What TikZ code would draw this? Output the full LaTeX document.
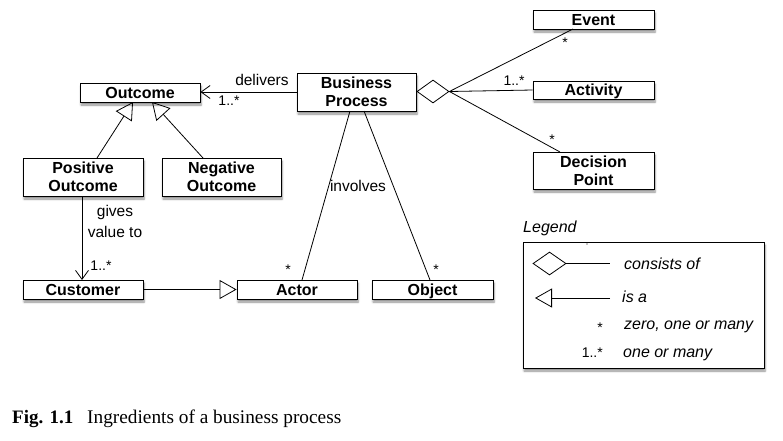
\documentclass[tikz,border=0pt]{standalone}
\usepackage{fontspec}
\setmainfont{Liberation Sans}
\newfontfamily\capfont{Liberation Serif}
\usetikzlibrary{arrows.meta,shapes.geometric,shadows.blur}
\begin{document}
\begin{tikzpicture}[x=1pt,y=-1pt,
  cls/.style={draw, line width=0.9pt, fill=white, inner sep=0pt, align=center,
    font=\bfseries\fontsize{16}{18}\selectfont,
    blur shadow={shadow xshift=1pt, shadow yshift=-3pt, shadow blur steps=6, shadow opacity=45}},
  one/.style={text height=14.2pt, text depth=3pt},
  conn/.style={line width=0.8pt},
  lbl/.style={inner sep=0pt, font=\fontsize{15.5}{21}\selectfont},
  mult/.style={inner sep=0pt, font=\fontsize{14}{15}\selectfont},
  leg/.style={inner sep=0pt, anchor=base west, font=\itshape\fontsize{16}{17}\selectfont},
  isa/.style={-{Triangle[open, length=17pt, width=19pt, line width=0.8pt]}},
  navi/.style={-{Straight Barb[length=9pt, width=13pt, line width=0.8pt]}}]
\useasboundingbox (0,0) rectangle (783,440);

% classes
\node[cls, one, minimum width=120pt, minimum height=19pt] (outcome) at (140,92.5) {Outcome};
\node[cls, minimum width=119pt, minimum height=38pt] (bp) at (356.5,92) {Business\\Process};
\node[cls, one, minimum width=121pt, minimum height=19pt] (event) at (593.5,19.5) {Event};
\node[cls, one, minimum width=121pt, minimum height=18pt] (activity) at (593.5,90) {Activity};
\node[cls, minimum width=121pt, minimum height=37pt] (decision) at (593.5,170.5) {Decision\\Point};
\node[cls, minimum width=120pt, minimum height=38pt] (pos) at (83,177) {Positive\\Outcome};
\node[cls, minimum width=119pt, minimum height=38pt] (neg) at (221.5,177) {Negative\\Outcome};
\node[cls, one, minimum width=120pt, minimum height=19pt] (customer) at (83,289.5) {Customer};
\node[cls, one, minimum width=120pt, minimum height=19pt] (actor) at (297,289.5) {Actor};
\node[cls, one, minimum width=121pt, minimum height=19pt] (object) at (432.5,289.5) {Object};

% aggregation diamond
\node[diamond, draw, line width=0.8pt, fill=white, minimum width=32pt, minimum height=23pt, inner sep=0pt] (dia) at (433,91.5) {};

% connectors
\draw[conn, navi] (bp.west |- 0,92) -- (outcome.east |- 0,92)
  node[lbl, pos=0.36, above=6pt] (delivers) {delivers};
\node[mult] (m1) at (229,101) {1..*};

\coordinate (posTop) at (97,158);
\coordinate (outA) at (133,102);
\draw[conn, isa] (posTop) -- (outA);
\coordinate (negTop) at (203,158);
\coordinate (outB) at (152,102);
\draw[conn, isa] (negTop) -- (outB);

\coordinate (posBot) at (82,196);
\coordinate (custTop) at (82,280);
\draw[conn, navi] (posBot) -- (custTop);
\node[lbl, align=center] (gives) at (115,221) {gives\\value to};
\node[mult] (m2) at (101,266) {1..*};

\draw[conn, isa] (customer.east) -- (actor.west);

\coordinate (bpA) at (350,111);
\coordinate (bpB) at (364,111);
\coordinate (actTop) at (302,280);
\coordinate (objTop) at (430,280);
\draw[conn] (bpA) -- (actTop);
\draw[conn] (bpB) -- (objTop);
\node[lbl] (involves) at (358,186) {involves};
\node[mult] (s1) at (288,270) {*};
\node[mult] (s2) at (436,270) {*};

\coordinate (evBot) at (573,29);
\coordinate (decTop) at (560,152);
\draw[conn] (dia.east) -- (evBot);
\draw[conn] (dia.east) -- (activity.west);
\draw[conn] (dia.east) -- (decTop);
\node[mult] (s3) at (565,43) {*};
\node[mult] (m3) at (514,81) {1..*};
\node[mult] (s4) at (552,140) {*};

% legend
\node[leg] (legtitle) at (523,232) {Legend};
\node[draw, line width=0.8pt, fill=white, minimum width=241pt, minimum height=126pt, inner sep=0pt,
  blur shadow={shadow xshift=1pt, shadow yshift=-3pt, shadow blur steps=6, shadow opacity=45}] (legbox) at (643.5,305) {};
\fill (587,244) circle (0.7pt);
\node[diamond, draw, line width=0.8pt, minimum width=33pt, minimum height=23pt, inner sep=0pt] (ldia) at (549.5,263.5) {};
\coordinate (lend1) at (610,263.5);
\draw[conn] (ldia.east) -- (lend1);
\node[leg] (t1) at (624,269) {consists of};
\coordinate (lstart2) at (610,298);
\coordinate (lapex) at (535,298);
\draw[conn, isa] (lstart2) -- (lapex);
\node[leg] (t2) at (622,302) {is a};
\node[mult, anchor=base] (ls) at (600,332) {*};
\node[leg] (t3) at (624,329) {zero, one or many};
\node[mult, anchor=base east] (lm) at (603,357) {1..*};
\node[leg] (t4) at (623,357) {one or many};

% caption
\node[anchor=base west, inner sep=0pt, font=\capfont\bfseries\fontsize{19}{21}\selectfont] (figno) at (12,423) {Fig. 1.1};
\node[anchor=base west, inner sep=0pt, font=\capfont\fontsize{19.3}{21}\selectfont] (cap) at (87,423) {Ingredients of a business process};
\end{tikzpicture}
\end{document}
